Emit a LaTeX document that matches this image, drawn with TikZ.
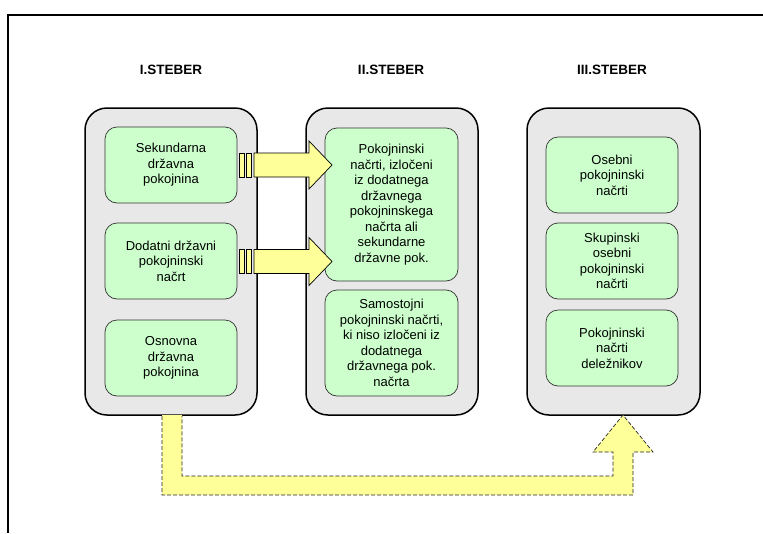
\documentclass[tikz,border=0pt]{standalone}
\usepackage{fontspec}
\setmainfont{Liberation Sans}
\usetikzlibrary{positioning}
\definecolor{pillar}{HTML}{E8E8E8}
\definecolor{planfill}{HTML}{CCFFCC}
\definecolor{flowfill}{HTML}{FFFF99}
\begin{document}
\begin{tikzpicture}[x=1pt,y=-1pt,
  heading/.style={font=\fontsize{13.5}{15}\selectfont\bfseries, inner sep=0pt},
  pillarbox/.style={draw=black, line width=1.5pt, fill=pillar, rounded corners=22pt},
  planbox/.style={draw=black!80, line width=0.7pt, fill=planfill, rounded corners=12pt,
    align=center, font=\fontsize{13}{15.5}\selectfont, inner sep=0pt},
  flowarrow/.style={draw=black, line width=0.7pt, fill=flowfill},
  flowdash/.style={draw=black!85, line width=0.7pt, dash pattern=on 4pt off 2pt}
]
\useasboundingbox (0,0) rectangle (763,533);
% outer frame (only the top and left edges fall inside the page)
\draw[line width=1.8pt] (763,15) -- (8,15) -- (8,533);

% pillar headings
\node[heading] (h1) at (171,70) {I.STEBER};
\node[heading] (h2) at (391,70) {II.STEBER};
\node[heading] (h3) at (612,70) {III.STEBER};

% pillar containers
\draw[pillarbox] (85,108) rectangle (257,415);
\draw[pillarbox] (306,108) rectangle (478,415);
\draw[pillarbox] (527,108) rectangle (700,415);
\coordinate (p1bottom) at (172,415);
\coordinate (p3bottom) at (623,415);

% first pillar
\node[planbox, minimum width=132pt, minimum height=76pt] (a1) at (171,165) {Sekundarna\\državna\\pokojnina};
\node[planbox, minimum width=132pt, minimum height=76pt] (a2) at (171,261) {Dodatni državni\\pokojninski\\načrt};
\node[planbox, minimum width=132pt, minimum height=76pt] (a3) at (171,358) {Osnovna\\državna\\pokojnina};

% second pillar
\node[planbox, minimum width=133pt, minimum height=153pt] (b1) at (391.5,204.5) {Pokojninski\\načrti, izločeni\\iz dodatnega\\državnega\\pokojninskega\\načrta ali\\sekundarne\\državne pok.};
\node[planbox, minimum width=133pt, minimum height=106pt] (b2) at (391.5,343) {Samostojni\\pokojninski načrti,\\ki niso izločeni iz\\dodatnega\\državnega pok.\\načrta};

% third pillar
\node[planbox, minimum width=132pt, minimum height=76pt] (c1) at (612,175) {Osebni\\pokojninski\\načrti};
\node[planbox, minimum width=132pt, minimum height=76pt] (c2) at (612,261) {Skupinski\\osebni\\pokojninski\\načrti};
\node[planbox, minimum width=132pt, minimum height=76pt] (c3) at (612,348) {Pokojninski\\načrti\\deležnikov};

% striped block arrows from the first pillar into the second
\foreach \yc in {165,261.5} {
  \draw[flowarrow] (239,\yc-12) rectangle (244,\yc+12);
  \draw[flowarrow] (246,\yc-12) rectangle (251,\yc+12);
  \draw[flowarrow] (254,\yc-12) -- (309,\yc-12) -- (309,\yc-24) -- (332,\yc)
     -- (309,\yc+24) -- (309,\yc+12) -- (254,\yc+12) -- cycle;
}

% dashed transfer arrow from the first pillar to the third
\fill[flowfill] (162,415) -- (162,495) -- (633,495) -- (633,452) -- (653,452)
  -- (p3bottom) -- (593,452) -- (613,452) -- (613,476) -- (182,476) -- (182,415) -- cycle;
\draw[flowdash] (162,416) -- (162,495) -- (633,495) -- (633,452) -- (653,452)
  -- (p3bottom) -- (593,452) -- (613,452) -- (613,476) -- (182,476) -- (182,416);
\end{tikzpicture}
\end{document}
